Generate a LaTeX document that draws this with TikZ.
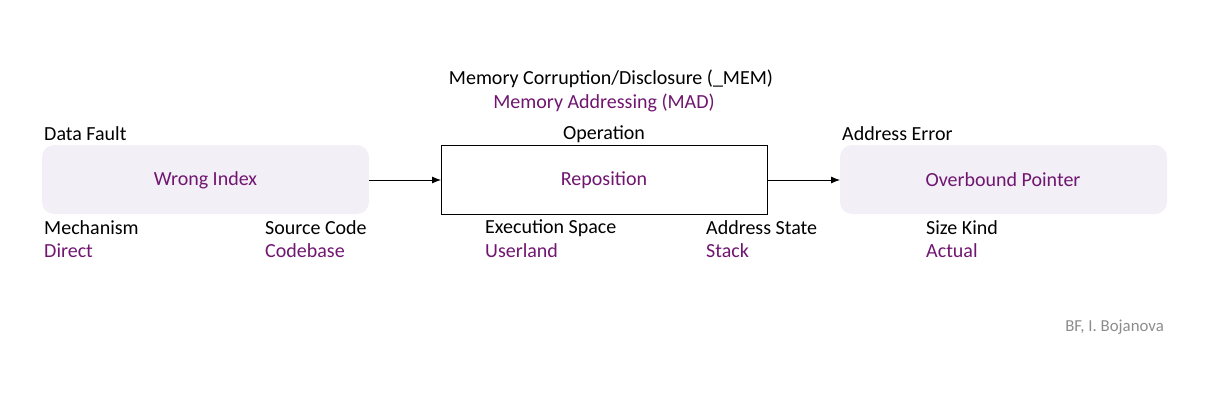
\documentclass[tikz,border=0pt]{standalone}
\usepackage{fontspec}
\setmainfont{Carlito}
\usetikzlibrary{arrows.meta}
\definecolor{purp}{RGB}{112,22,112}
\definecolor{lav}{RGB}{242,239,247}
\definecolor{gr}{RGB}{140,140,140}
\begin{document}
\begin{tikzpicture}[x=1pt,y=-1pt,
  lbl/.style={font=\fontsize{20}{23}\selectfont, inner sep=0pt, text=black},
  val/.style={lbl, text=purp},
  soft/.style={draw=none, fill=lav, rounded corners=12pt},
  hard/.style={draw=black, fill=white, line width=0.8pt},
  conn/.style={-{Latex[length=9pt,width=7pt]}, line width=0.8pt}]
\useasboundingbox (0,0) rectangle (1207,400);
\path[soft] (42,145) rectangle (369,214);
\node[val] (wi) at (205.5,180) {Wrong Index};
\coordinate (b1e) at (369,180);
\path[hard] (441,145) rectangle (767,214);
\node[val] (rep) at (604,180) {Reposition};
\coordinate (b2w) at (441,180);
\coordinate (b2e) at (767,180);
\path[soft] (840,145) rectangle (1167,214);
\node[val] (ob) at (1003,180) {Overbound Pointer};
\coordinate (b3w) at (840,180);
\draw[conn] (b1e) -- (b2w);
\draw[conn] (b2e) -- (b3w);
\node[lbl] (t1) at (611,79) {Memory Corruption/Disclosure (\_MEM)};
\node[val] (t2) at (604,103) {Memory Addressing (MAD)};
\node[lbl,anchor=west] (df) at (44,134) {Data Fault};
\node[lbl] (op) at (604,134) {Operation};
\node[lbl,anchor=west] (ae) at (842,134) {Address Error};
\node[lbl,anchor=west] (m1) at (44,228) {Mechanism};
\node[val,anchor=west] (v1) at (44,251) {Direct};
\node[lbl,anchor=west] (m2) at (265,228) {Source Code};
\node[val,anchor=west] (v2) at (265,251) {Codebase};
\node[lbl,anchor=west] (m3) at (485,228) {Execution Space};
\node[val,anchor=west] (v3) at (485,251) {Userland};
\node[lbl,anchor=west] (m4) at (706,228) {Address State};
\node[val,anchor=west] (v4) at (706,251) {Stack};
\node[lbl,anchor=west] (m5) at (926,228) {Size Kind};
\node[val,anchor=west] (v5) at (926,251) {Actual};
\node[lbl,anchor=east,text=gr,font=\fontsize{16.8}{19}\selectfont] (cr) at (1164,327) {BF, I. Bojanova};
\end{tikzpicture}
\end{document}
